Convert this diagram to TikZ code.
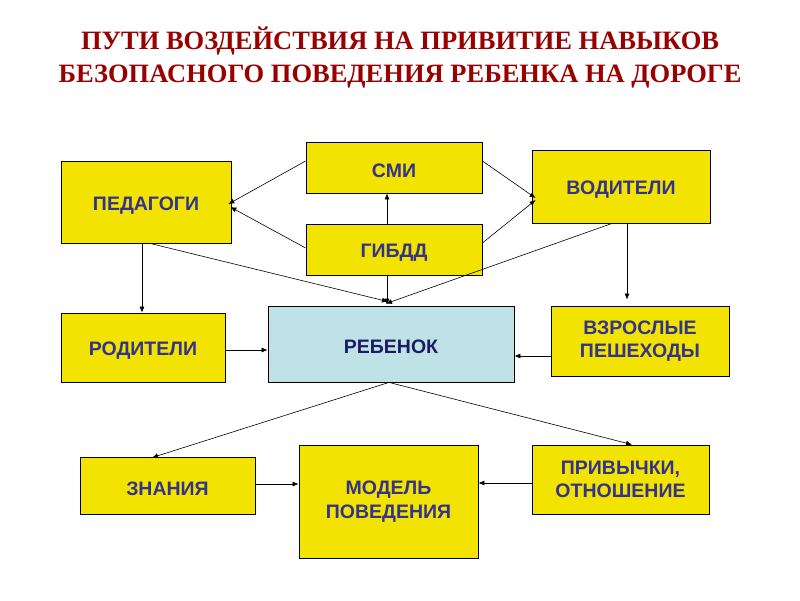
\documentclass[tikz,border=0pt]{standalone}
\usepackage{fontspec}
\setmainfont{Liberation Sans}
\newfontfamily\titlefont{Liberation Serif}
\usetikzlibrary{arrows.meta}
\definecolor{ttl}{RGB}{153,0,0}
\definecolor{lbl}{RGB}{51,51,140}
\definecolor{lblchild}{RGB}{28,28,100}
\definecolor{ybg}{RGB}{242,228,0}
\definecolor{bbg}{RGB}{191,226,230}
\tikzset{
  ybox/.style={draw=black, line width=0.8pt, fill=ybg, text=lbl, inner sep=0pt, align=center,
    font=\fontsize{19.5}{23.5}\selectfont\bfseries,
    execute at begin node={\rule{0pt}{20pt}}},
  bbox/.style={ybox, fill=bbg, text=lblchild},
  arr/.style={draw=black, line width=0.6pt, -{Latex[length=6pt,width=5pt]}},
  ttlstyle/.style={text=ttl, font=\titlefont\fontsize{26.5}{33}\selectfont\bfseries, align=center}
}
\begin{document}
\begin{tikzpicture}[x=1pt,y=-1pt]
\useasboundingbox[fill=white] (0,0) rectangle (800,600);
\node[ttlstyle] (title) at (400,58) {ПУТИ ВОЗДЕЙСТВИЯ НА ПРИВИТИЕ НАВЫКОВ\\БЕЗОПАСНОГО ПОВЕДЕНИЯ РЕБЕНКА НА ДОРОГЕ};

\node[ybox, minimum width=170pt, minimum height=82pt] (ped) at (146,202) {ПЕДАГОГИ};
\node[ybox, minimum width=176pt, minimum height=51pt] (smi) at (394,167.5) {СМИ};
\node[ybox, minimum width=178pt, minimum height=73pt] (vod) at (621,186.5) {ВОДИТЕЛИ};
\node[ybox, minimum width=176pt, minimum height=51pt] (gib) at (394,249.5) {ГИБДД};
\node[ybox, minimum width=164pt, minimum height=69pt] (rod) at (143,347.5) {РОДИТЕЛИ};
\node[bbox, minimum width=246pt, minimum height=76pt] (reb) at (391,344) {РЕБЕНОК};
\node[ybox, minimum width=178pt, minimum height=70pt] (vzr) at (640,341) {ВЗРОСЛЫЕ\\ПЕШЕХОДЫ};
\node[ybox, minimum width=175pt, minimum height=57pt] (zn) at (167.5,485.5) {ЗНАНИЯ};
\node[ybox, minimum width=179pt, minimum height=113pt] (mod) at (388.5,501.5) {МОДЕЛЬ\\ПОВЕДЕНИЯ};
\node[ybox, minimum width=177pt, minimum height=69pt] (priv) at (620.5,479.5) {ПРИВЫЧКИ,\\ОТНОШЕНИЕ};

\draw[arr] ([yshift=6.5pt]smi.west) -- ([xshift=-3pt,yshift=-2pt]ped.east);
\draw[arr] ([yshift=1.5pt]gib.west) -- ([xshift=-1pt,yshift=-5pt]ped.east);
\draw[arr] ([xshift=-7pt]gib.north) -- ([xshift=-7pt]smi.south);
\draw[arr] ([yshift=6.5pt]smi.east) -- ([xshift=4pt,yshift=-11.5pt]vod.west);
\draw[arr] ([yshift=6.5pt]gib.east) -- ([xshift=4pt,yshift=-13.5pt]vod.west);
\draw[arr] ([xshift=-7pt]gib.south) -- ([xshift=-4pt,yshift=1pt]reb.north);
\draw[arr] ([xshift=4pt]ped.south) -- ([xshift=-3pt,yshift=4pt]reb.north);
\draw[arr] ([xshift=-9pt]vod.south) -- ([xshift=-5pt,yshift=2pt]reb.north);
\draw[arr] ([xshift=-4pt]ped.south) -- ([xshift=-1pt]rod.north);
\draw[arr] ([xshift=6pt]vod.south) -- ([xshift=-13pt,yshift=6pt]vzr.north);
\draw[arr] ([yshift=-2.5pt]rod.east) -- ([yshift=-6pt]reb.west);
\draw[arr] ([yshift=-15pt]vzr.west) -- ([yshift=-12pt]reb.east);
\draw[arr] ([xshift=-2pt]reb.south) -- ([xshift=-15.5pt,yshift=-1pt]zn.north);
\draw[arr] ([xshift=-2pt]reb.south) -- ([xshift=11.5pt]priv.north);
\draw[arr] ([yshift=1.5pt]zn.east) -- ([yshift=17.5pt]mod.west);
\draw[arr] ([yshift=-3.5pt]priv.west) -- ([yshift=18.5pt]mod.east);
\end{tikzpicture}
\end{document}
